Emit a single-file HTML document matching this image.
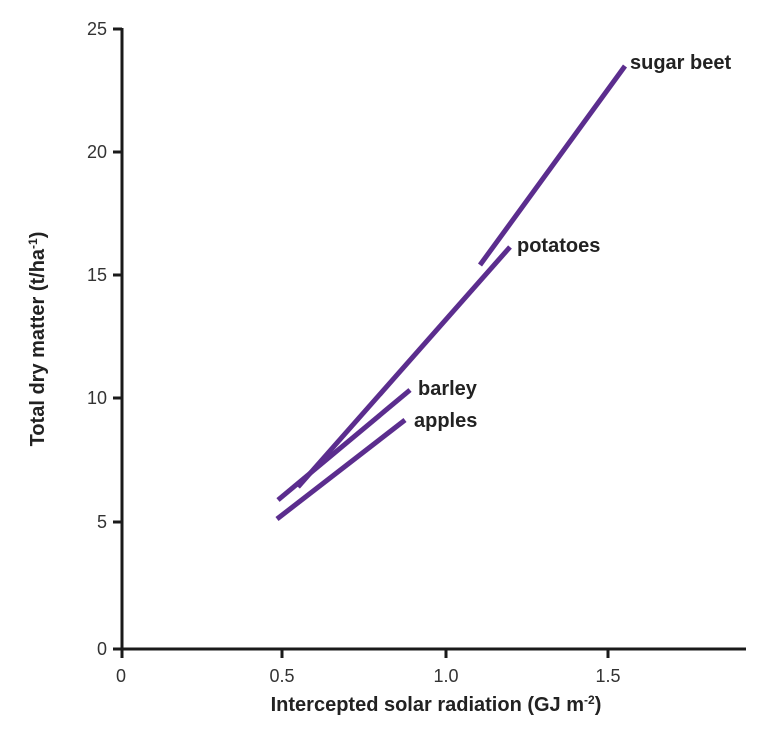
<!DOCTYPE html>
<html><head><style>body{margin:0;background:#fff}</style></head><body>
<svg width="782" height="730" xmlns="http://www.w3.org/2000/svg" font-family="Liberation Sans, sans-serif">
<g stroke="#1a1a1a" stroke-width="3" fill="none">
<line x1="122" y1="28" x2="122" y2="650"/>
<line x1="113" y1="649" x2="746" y2="649"/>
<line x1="113" y1="522" x2="122" y2="522"/>
<line x1="113" y1="398" x2="122" y2="398"/>
<line x1="113" y1="275" x2="122" y2="275"/>
<line x1="113" y1="152" x2="122" y2="152"/>
<line x1="113" y1="29" x2="122" y2="29"/>
<line x1="122" y1="649" x2="122" y2="658"/>
<line x1="282" y1="649" x2="282" y2="658"/>
<line x1="446" y1="649" x2="446" y2="658"/>
<line x1="608" y1="649" x2="608" y2="658"/>
</g>
<g font-size="18" fill="#333" text-anchor="end">
<text x="107" y="655">0</text><text x="107" y="528">5</text><text x="107" y="404">10</text>
<text x="107" y="281">15</text><text x="107" y="158">20</text><text x="107" y="35">25</text>
</g>
<g font-size="18" fill="#333" text-anchor="middle">
<text x="121" y="682">0</text><text x="282" y="682">0.5</text><text x="446" y="682">1.0</text><text x="608" y="682">1.5</text>
</g>
<text x="436" y="711" font-size="20" font-weight="bold" fill="#222" text-anchor="middle">Intercepted solar radiation (GJ m<tspan font-size="12" dy="-7">-2</tspan><tspan dy="7">)</tspan></text>
<text transform="translate(44,339) rotate(-90)" font-size="20" font-weight="bold" fill="#222" text-anchor="middle">Total dry matter (t/ha<tspan font-size="12" dy="-7">-1</tspan><tspan dy="7">)</tspan></text>
<g stroke="#5b2d8e" stroke-width="5">
<line x1="277" y1="519" x2="405" y2="420"/>
<line x1="278" y1="500" x2="410" y2="390"/>
<line x1="298" y1="487" x2="510" y2="247"/>
<line x1="480" y1="265" x2="625" y2="66"/>
</g>
<g font-size="20" font-weight="bold" fill="#222">
<text x="630" y="69">sugar beet</text>
<text x="517" y="252">potatoes</text>
<text x="418" y="395">barley</text>
<text x="414" y="427">apples</text>
</g>
</svg>
</body></html>
